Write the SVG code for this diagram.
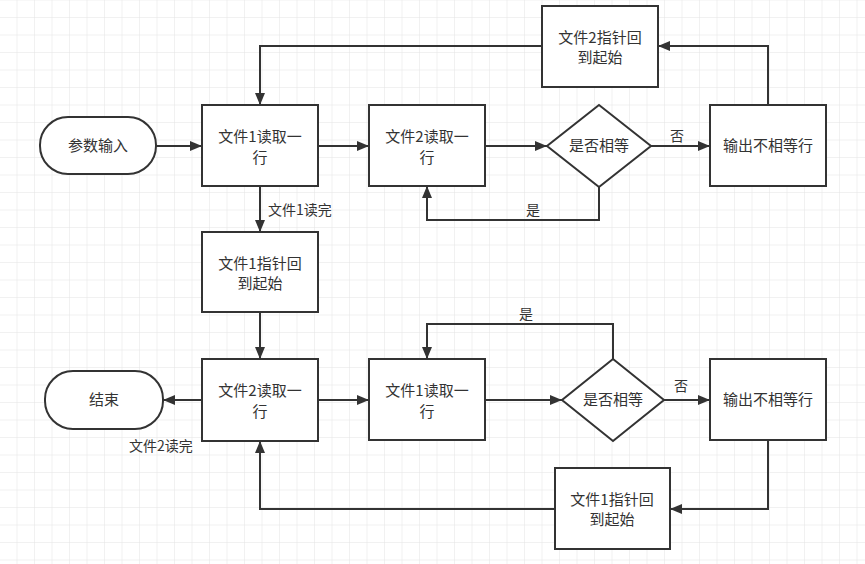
<svg xmlns="http://www.w3.org/2000/svg" width="865" height="564" viewBox="0 0 865 564">
<defs>
<pattern id="grid" x="0" y="0.5" width="17.5" height="17.5" patternUnits="userSpaceOnUse">
<path d="M17.5 0 V17.5 M0 17.5 H17.5" fill="none" stroke="#e4e4e4" stroke-width="1"/>
</pattern>
<marker id="arr" markerWidth="12" markerHeight="10" refX="12" refY="5" orient="auto" markerUnits="userSpaceOnUse">
<path d="M0,0 L12,5 L0,10 Z" fill="#333"/>
</marker>
</defs>
<style>
.box{fill:#fff;stroke:#333;stroke-width:2}
.t{font-family:"Noto Sans CJK SC","Microsoft YaHei",sans-serif;font-size:15px;fill:#333;text-anchor:middle}
.lbl{font-family:"Noto Sans CJK SC","Microsoft YaHei",sans-serif;font-size:14px;fill:#333}
.c{fill:none;stroke:#333;stroke-width:2;marker-end:url(#arr)}
</style>
<rect width="865" height="564" fill="#fff"/>
<rect width="865" height="564" fill="url(#grid)"/>

<g id="connectors">
<path class="c" d="M156,146 H202"/>
<path class="c" d="M318,146 H369"/>
<path class="c" d="M485,146 H547"/>
<path class="c" d="M651,146 H710"/>
<path class="c" d="M768,105 V46 H658"/>
<path class="c" d="M542,46 H260 V105"/>
<path class="c" d="M599,187 V220 H427 V186"/>
<path class="c" d="M260,186 V232"/>
<path class="c" d="M260,312 V359"/>
<path class="c" d="M202,400 H163"/>
<path class="c" d="M318,400 H369"/>
<path class="c" d="M485,400 H562"/>
<path class="c" d="M664,400 H710"/>
<path class="c" d="M613,359 V324 H427 V359"/>
<path class="c" d="M768,440 V509 H670"/>
<path class="c" d="M555,509 H260 V441"/>
<text class="lbl" x="670" y="141">否</text>
<text class="lbl" x="526" y="215">是</text>
<text class="lbl" x="268" y="215">文件1读完</text>
<text class="lbl" x="129" y="451">文件2读完</text>
<text class="lbl" x="674" y="391">否</text>
<text class="lbl" x="519" y="319">是</text>
</g>

<g id="start">
<rect class="box" x="40" y="117" width="116" height="57" rx="28"/>
<text class="t" x="98" y="151">参数输入</text>
</g>
<g id="f1read_top">
<rect class="box" x="202" y="105" width="116" height="81"/>
<text class="t" x="260" y="142">文件1读取一</text>
<text class="t" x="260" y="163">行</text>
</g>
<g id="f2read_top">
<rect class="box" x="369" y="105" width="116" height="81"/>
<text class="t" x="427" y="142">文件2读取一</text>
<text class="t" x="427" y="163">行</text>
</g>
<g id="cmp_top">
<path class="box" d="M599,105 L651,146 L599,187 L547,146 Z"/>
<text class="t" x="599" y="151">是否相等</text>
</g>
<g id="out_top">
<rect class="box" x="710" y="105" width="116" height="81"/>
<text class="t" x="768" y="151">输出不相等行</text>
</g>
<g id="f2reset">
<rect class="box" x="542" y="6" width="116" height="81"/>
<text class="t" x="600" y="43">文件2指针回</text>
<text class="t" x="600" y="63">到起始</text>
</g>
<g id="f1reset_mid">
<rect class="box" x="202" y="232" width="116" height="80"/>
<text class="t" x="260" y="269">文件1指针回</text>
<text class="t" x="260" y="289">到起始</text>
</g>
<g id="f2read_bot">
<rect class="box" x="202" y="359" width="116" height="82"/>
<text class="t" x="260" y="396">文件2读取一</text>
<text class="t" x="260" y="417">行</text>
</g>
<g id="end">
<rect class="box" x="45" y="371" width="118" height="58" rx="28"/>
<text class="t" x="104" y="405">结束</text>
</g>
<g id="f1read_bot">
<rect class="box" x="369" y="359" width="116" height="81"/>
<text class="t" x="427" y="396">文件1读取一</text>
<text class="t" x="427" y="417">行</text>
</g>
<g id="cmp_bot">
<path class="box" d="M613,359 L664,400 L613,441 L562,400 Z"/>
<text class="t" x="613" y="405">是否相等</text>
</g>
<g id="out_bot">
<rect class="box" x="710" y="359" width="116" height="81"/>
<text class="t" x="768" y="405">输出不相等行</text>
</g>
<g id="f1reset_bot">
<rect class="box" x="555" y="468" width="115" height="81"/>
<text class="t" x="612" y="505">文件1指针回</text>
<text class="t" x="612" y="525">到起始</text>
</g>
</svg>
